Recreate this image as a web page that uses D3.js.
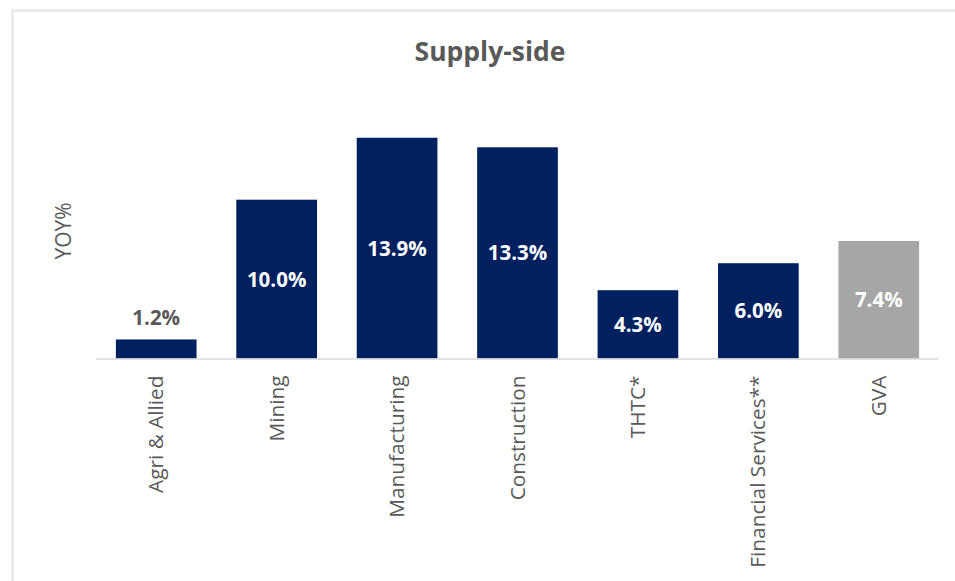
<!DOCTYPE html>
<html>
<head>
<meta charset="utf-8">
<script src="https://cdn.jsdelivr.net/npm/d3@7"></script>
<style>
  html, body { margin: 0; padding: 0; background: #ffffff; }
  svg { display: block; }
</style>
</head>
<body>
<svg id="chart" width="955" height="581"></svg>
<script>
const categories = ["Agri & Allied", "Mining", "Manufacturing", "Construction", "THTC*", "Financial Services**", "GVA"];
const values = [1.2, 10.0, 13.9, 13.3, 4.3, 6.0, 7.4];
const valueLabels = ["1.2%", "10.0%", "13.9%", "13.3%", "4.3%", "6.0%", "7.4%"];
const barColors = ["#002060", "#002060", "#002060", "#002060", "#002060", "#002060", "#a6a6a6"];
const title = "Supply-side";
const yTitle = "YOY%";

const svg = d3.select("#chart");

// frame
svg.append("rect")
  .attr("x", 12.5).attr("y", 10.5)
  .attr("width", 1000).attr("height", 1000)
  .attr("fill", "#ffffff")
  .attr("stroke", "#e3e3e3").attr("stroke-width", 2);

const x = d3.scaleBand().domain(categories).range([96, 939]).paddingInner(0.33).paddingOuter(0.165);
const y = d3.scaleLinear().domain([0, 14]).range([358.5, 358.5 - 14 * 15.88]);

// title
svg.append("text")
  .attr("x", 490).attr("y", 61)
  .attr("text-anchor", "middle")
  .attr("font-family", "Open Sans")
  .attr("font-weight", "bold")
  .attr("font-size", 26.5)
  .attr("fill", "#595959")
  .text(title);

// y title
svg.append("text")
  .attr("transform", "translate(71,231) rotate(-90)")
  .attr("text-anchor", "middle")
  .attr("font-family", "Open Sans")
  .attr("font-size", 21)
  .attr("fill", "#595959")
  .text(yTitle);

// bars
svg.selectAll("rect.bar").data(values).enter().append("rect")
  .attr("class", "bar")
  .attr("x", (d, i) => x(categories[i]))
  .attr("y", d => y(d))
  .attr("width", x.bandwidth())
  .attr("height", d => y(0) - y(d))
  .attr("fill", (d, i) => barColors[i]);

// x axis
const xAxis = d3.axisBottom(x).tickSize(0).tickPadding(0);
const gx = svg.append("g").attr("transform", `translate(0,${y(0)})`).call(xAxis);
gx.select(".domain").attr("stroke", "#d9d9d9").attr("stroke-width", 1.5).attr("d", "M96,0.5H939");
gx.selectAll(".tick text")
  .attr("font-family", "Open Sans")
  .attr("font-size", 20.8)
  .attr("fill", "#595959")
  .attr("text-anchor", "end")
  .attr("dy", null)
  .attr("transform", "translate(7,17) rotate(-90)")
  .attr("x", 0).attr("y", 0);

// value labels
svg.selectAll("text.val").data(values).enter().append("text")
  .attr("class", "val")
  .attr("x", (d, i) => x(categories[i]) + x.bandwidth() / 2)
  .attr("y", (d, i) => i === 0 ? y(d) - 14 : (y(d) + y(0)) / 2 + 7.5)
  .attr("text-anchor", "middle")
  .attr("font-family", "Open Sans")
  .attr("font-weight", "bold")
  .attr("font-size", 20.5)
  .attr("fill", (d, i) => i === 0 ? "#595959" : "#ffffff")
  .text((d, i) => valueLabels[i]);
</script>
</body>
</html>
